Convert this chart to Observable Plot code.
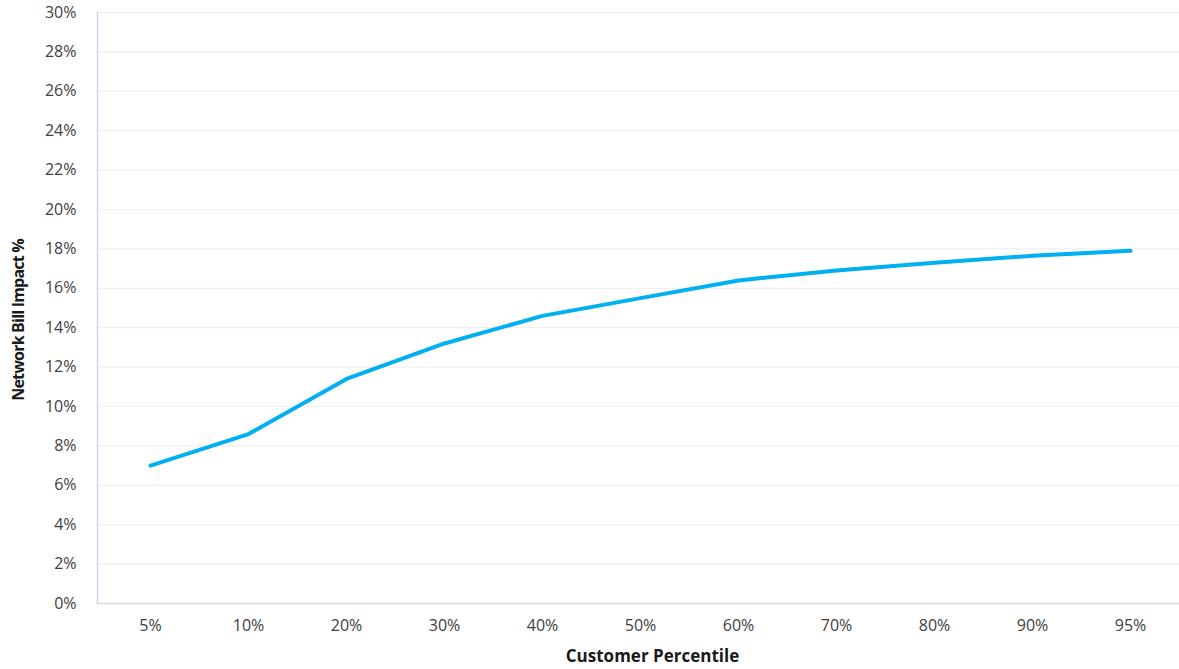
<!DOCTYPE html>
<html>
<head>
<meta charset="utf-8">
<script src="https://cdn.jsdelivr.net/npm/d3@7"></script>
<script src="https://cdn.jsdelivr.net/npm/@observablehq/plot@0.6"></script>
<style>
  html, body { margin: 0; padding: 0; background: #ffffff; }
  #chart svg { display: block; }
  .ylabel text { letter-spacing: -0.8px; }
</style>
</head>
<body>
<div id="chart"></div>
<script>
// Customer percentiles along the x axis
const percentiles = ["5%", "10%", "20%", "30%", "40%", "50%", "60%", "70%", "80%", "90%", "95%"];
// Network bill impact at each percentile (percent)
const billImpact = [7.0, 8.6, 11.4, 13.2, 14.6, 15.5, 16.4, 16.9, 17.3, 17.65, 17.9];
// Y axis tick values (percent)
const yTicks = [0, 2, 4, 6, 8, 10, 12, 14, 16, 18, 20, 22, 24, 26, 28, 30];

const rows = percentiles.map((p, i) => ({percentile: p, impact: billImpact[i] / 100}));

const W = 1179, H = 669;
const mL = 97, mT = 12, mB = 66, mR = 0;

const tickFont = "'Open Sans', sans-serif";

const chart = Plot.plot({
  width: W,
  height: H,
  marginLeft: mL,
  marginRight: mR,
  marginTop: mT,
  marginBottom: mB,
  style: {background: "#ffffff", fontFamily: tickFont, fontSize: "16px", color: "#404040"},
  x: {type: "point", padding: 0, domain: percentiles, range: [145, 1134]},
  y: {domain: [0, 0.30]},
  marks: [
    Plot.ruleY(yTicks.map(d => d / 100), {stroke: "#efefef", strokeWidth: 1.2}),
    Plot.axisY(yTicks.map(d => d / 100), {
      tickFormat: d => Math.round(d * 100) + "%",
      tickSize: 0, tickPadding: 21, fill: "#404040", fontSize: 16, label: null
    }),
    Plot.axisX({tickSize: 0, tickPadding: 16, fill: "#404040", fontSize: 16, label: null}),
    Plot.frame({anchor: "left", stroke: "#c6d8f0", strokeWidth: 1.5}),
    Plot.ruleY([0], {stroke: "#d0dbe6", strokeWidth: 1.5}),
    Plot.line(rows, {
      x: "percentile", y: "impact",
      stroke: "#00b0f0", strokeWidth: 4,
      strokeLinejoin: "round", strokeLinecap: "round"
    }),
    // Axis titles
    Plot.text(["Customer Percentile"], {
      frameAnchor: "bottom", dx: 14, dy: 58,
      fontFamily: "'Open Sans', sans-serif", fontWeight: "bold", fontSize: 17, fill: "#1a1a1a"
    }),
    Plot.text(["Network Bill Impact %"], {
      frameAnchor: "left", dx: -79, dy: 12, rotate: -90, textAnchor: "middle",
      className: "ylabel",
      fontFamily: "'Open Sans', sans-serif",
      fontWeight: "bold", fontSize: 16, fill: "#1a1a1a"
    })
  ]
});

document.getElementById("chart").appendChild(chart);
</script>
</body>
</html>
